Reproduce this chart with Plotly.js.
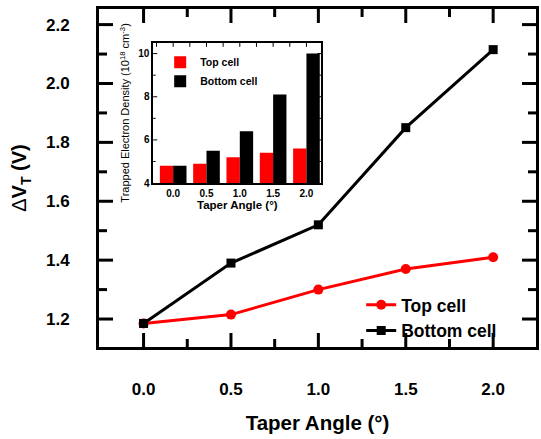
<!DOCTYPE html>
<html><head><meta charset="utf-8">
<script src="https://cdn.plot.ly/plotly-3.0.1.min.js"></script>
<style>body{margin:0;background:#fff}#chart{width:541px;height:439px}</style>
</head><body><div id="chart"></div>
<script>
const angles = [0.0, 0.5, 1.0, 1.5, 2.0];
const angleLabels = ["0.0", "0.5", "1.0", "1.5", "2.0"];
const topCellDVT = [1.185, 1.215, 1.30, 1.37, 1.41];
const bottomCellDVT = [1.185, 1.39, 1.52, 1.85, 2.115];
const topCellDensity = [4.8, 4.9, 5.2, 5.4, 5.6];
const bottomCellDensity = [4.8, 5.5, 6.4, 8.1, 10.0];
const dvtTicks = [1.2, 1.4, 1.6, 1.8, 2.0, 2.2];
const dvtMinorTicks = [1.1, 1.3, 1.5, 1.7, 1.9, 2.1];
const densityTicks = [4, 6, 8, 10];
const densityMinorTicks = [5, 7, 9];

const F = "Liberation Sans, Arial, sans-serif";
const W = 541, H = 439, M = {l: 99, r: 5, t: 9, b: 92};
const PW = W - M.l - M.r, PH = H - M.t - M.b;
const mainXRange = [-0.255, 2.245], mainYRange = [1.105, 2.253];
const insetXRange = [-0.3, 2.225], insetYRange = [4, 10.5];
const insetXDom = [0.124, 0.509], insetYDom = [0.485, 0.9];

const traces = [
  {x: angles, y: topCellDVT, name: "Top cell", type: "scatter", mode: "lines+markers",
   line: {color: "#ff0000", width: 3}, marker: {symbol: "circle", size: 10, color: "#ff0000"},
   xaxis: "x", yaxis: "y", legend: "legend"},
  {x: angles, y: bottomCellDVT, name: "Bottom cell", type: "scatter", mode: "lines+markers",
   line: {color: "#000000", width: 3}, marker: {symbol: "square", size: 9, color: "#000000"},
   xaxis: "x", yaxis: "y", legend: "legend"},
  {x: angles, y: topCellDensity, name: "Top cell", type: "bar",
   marker: {color: "#ff0000", line: {width: 0}}, xaxis: "x2", yaxis: "y2", legend: "legend2"},
  {x: angles, y: bottomCellDensity, name: "Bottom cell", type: "bar",
   marker: {color: "#000000", line: {width: 0}}, xaxis: "x2", yaxis: "y2", legend: "legend2"}
];

// tick marks (inside, on all four sides) drawn as shapes from the tick arrays
const shapes = [];
function xTicks(vals, xref, yEdge, lenPx, dir, w) {
  vals.forEach(v => shapes.push({type: "line", xref: xref, yref: "paper", x0: v, x1: v,
    y0: yEdge, y1: yEdge + dir * lenPx / PH, line: {color: "#000", width: w}, layer: "above"}));
}
function yTicks(vals, yref, xEdge, lenPx, dir, w) {
  vals.forEach(v => shapes.push({type: "line", xref: "paper", yref: yref, y0: v, y1: v,
    x0: xEdge, x1: xEdge + dir * lenPx / PW, line: {color: "#000", width: w}, layer: "above"}));
}
const xMinor = angles.slice(0, -1).map(a => a + 0.25);
xTicks(angles, "x", 0, 14, 1, 3);  xTicks(xMinor, "x", 0, 8, 1, 3);
xTicks(angles, "x", 1, 14, -1, 3); xTicks(xMinor, "x", 1, 8, -1, 3);
yTicks(dvtTicks, "y", 0, 14, 1, 3); yTicks(dvtMinorTicks, "y", 0, 8, 1, 3);
yTicks(dvtTicks, "y", 1, 14, -1, 3); yTicks(dvtMinorTicks, "y", 1, 8, -1, 3);
const insetTop = angles.concat(angles.map(a => a - 0.25));
xTicks(insetTop, "x2", insetYDom[1], 4, -1, 1);
yTicks(densityTicks.slice(1), "y2", insetXDom[0], 4, 1, 1);
yTicks(densityMinorTicks, "y2", insetXDom[0], 2.5, 1, 1);
yTicks(densityTicks.slice(1), "y2", insetXDom[1], 4, -1, 1);
yTicks(densityMinorTicks, "y2", insetXDom[1], 2.5, -1, 1);

const layout = {
  width: W, height: H, margin: M,
  paper_bgcolor: "#fff", plot_bgcolor: "#fff",
  font: {family: F, color: "#000"},
  barmode: "group", bargap: 0.2, bargroupgap: 0,
  shapes: shapes,
  xaxis: {
    domain: [0, 1], anchor: "y", range: mainXRange, tickvals: angles, ticktext: angleLabels,
    showline: true, mirror: true, linecolor: "#000", linewidth: 3, ticks: "",
    zeroline: false, showgrid: false,
    tickfont: {size: 17, family: F, weight: "bold"},
    ticklabelstandoff: 25,
    title: {text: "Taper Angle (°)", font: {size: 20.5, family: F, weight: "bold"}, standoff: 18}
  },
  yaxis: {
    domain: [0, 1], anchor: "x", range: mainYRange, tickvals: dvtTicks, tickformat: ".1f",
    showline: true, mirror: true, linecolor: "#000", linewidth: 3, ticks: "",
    zeroline: false, showgrid: false,
    tickfont: {size: 17, family: F, weight: "bold"},
    ticklabelstandoff: 23,
    title: {text: "<span style='font-weight:normal'>Δ</span>V<sub>T</sub> (V)", font: {size: 20, family: F, weight: "bold"}, standoff: 14}
  },
  xaxis2: {
    domain: insetXDom, anchor: "y2", range: insetXRange, tickvals: angles, ticktext: angleLabels,
    showline: true, mirror: true, linecolor: "#000", linewidth: 1.5, ticks: "",
    zeroline: false, showgrid: false,
    tickfont: {size: 10, family: F, weight: "bold"},
    title: {text: "Taper Angle (°)", font: {size: 11.5, family: F, weight: "bold"}, standoff: 2}
  },
  yaxis2: {
    domain: insetYDom, anchor: "x2", range: insetYRange, tickvals: densityTicks,
    showline: true, mirror: true, linecolor: "#000", linewidth: 1.5, ticks: "",
    zeroline: false, showgrid: false,
    tickfont: {size: 10, family: F, weight: "bold"},
    title: {text: "Trapped Electron Density (10<sup>18</sup> cm<sup>-3</sup>)", font: {size: 11, family: F}, standoff: 6}
  },
  legend: {x: 0.6, y: 0.086, xanchor: "left", yanchor: "middle", bgcolor: "rgba(0,0,0,0)",
    font: {size: 17.5, family: F, weight: "bold"}, tracegroupgap: 0},
  legend2: {x: 0.14, y: 0.885, xanchor: "left", yanchor: "top", bgcolor: "rgba(0,0,0,0)",
    font: {size: 10.5, family: F, weight: "bold"}, tracegroupgap: 0}
};

Plotly.newPlot("chart", traces, layout, {displayModeBar: false});
</script>
</body></html>
